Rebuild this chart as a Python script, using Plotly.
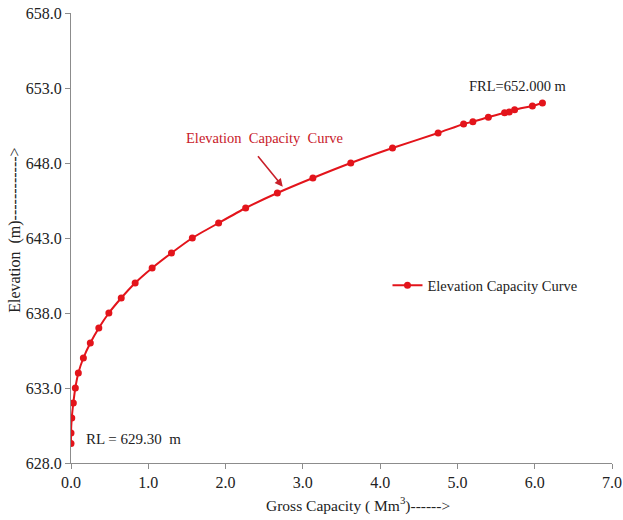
import plotly.graph_objects as go

capacity = [0.0, 0.0, 0.01, 0.03, 0.056, 0.095, 0.16, 0.25, 0.36, 0.49, 0.65, 0.83, 1.05,
            1.30, 1.57, 1.91, 2.26, 2.67, 3.13, 3.62, 4.16, 4.75, 5.08, 5.20, 5.40, 5.61,
            5.67, 5.74, 5.97, 6.10]
elevation = [629.3, 630.0, 631.0, 632.0, 633.0, 634.0, 635.0, 636.0, 637.0, 638.0, 639.0, 640.0, 641.0,
             642.0, 643.0, 644.0, 645.0, 646.0, 647.0, 648.0, 649.0, 650.0, 650.6, 650.75, 651.05, 651.35,
             651.4, 651.55, 651.8, 652.0]
x_ticks = [0, 1, 2, 3, 4, 5, 6, 7]
y_ticks = [628, 633, 638, 643, 648, 653, 658]

FONT = "Liberation Serif, Times New Roman, serif"
LINE_RED = "#e3141b"
TEXT_RED = "#c8202a"

fig = go.Figure()
fig.add_trace(go.Scatter(
    x=capacity, y=elevation, mode="lines+markers",
    name="Elevation Capacity Curve",
    line=dict(color=LINE_RED, width=2, shape="spline", smoothing=0.6),
    marker=dict(color=LINE_RED, size=7),
))

axis_common = dict(
    showgrid=False, zeroline=False, showline=True, linecolor="#8c8c8c", linewidth=1,
    ticks="outside", ticklen=5, tickcolor="#8c8c8c", automargin=False,
    ticklabeloverflow="allow",
    tickfont=dict(family=FONT, size=16, color="#222"),
)
fig.update_xaxes(range=[0, 7], tickvals=x_ticks, ticktext=[f"{v:.1f}" for v in x_ticks], **axis_common)
fig.update_yaxes(range=[628, 658], tickvals=y_ticks, ticktext=[f"{v:.1f}" for v in y_ticks], **axis_common)

fig.update_layout(
    width=623, height=520,
    margin=dict(l=71, r=11, t=13, b=57),
    plot_bgcolor="white", paper_bgcolor="white",
    font=dict(family=FONT, size=15, color="#222"),
    showlegend=True,
    legend=dict(x=0.585, y=0.395, xanchor="left", yanchor="middle",
                font=dict(family=FONT, size=14.5, color="#222"),
                bgcolor="rgba(0,0,0,0)", itemwidth=30),
    annotations=[
        dict(text="Gross Capacity ( Mm<sup>3</sup>)------>", xref="paper", yref="paper",
             x=0.53, y=-0.093, xanchor="center", yanchor="middle", showarrow=False,
             font=dict(family=FONT, size=15.5, color="#222")),
        dict(text="Elevation  (m)------------>", xref="paper", yref="paper",
             x=-0.1035, y=0.516, xanchor="center", yanchor="middle", textangle=-90, showarrow=False,
             font=dict(family=FONT, size=16, color="#222")),
        dict(text="Elevation  Capacity  Curve", x=2.5, y=649.67, xanchor="center", yanchor="middle",
             showarrow=False, font=dict(family=FONT, size=14.5, color=TEXT_RED)),
        dict(text="", x=2.74, y=646.42, ax=-26, ay=-32, showarrow=True, arrowhead=2,
             arrowsize=1, arrowwidth=1.6, arrowcolor=TEXT_RED),
        dict(text="FRL=652.000 m", x=5.78, y=653.13, xanchor="center", yanchor="middle",
             showarrow=False, font=dict(family=FONT, size=14.5, color="#222")),
        dict(text="RL = 629.30  m", x=0.815, y=629.6, xanchor="center", yanchor="middle",
             showarrow=False, font=dict(family=FONT, size=15, color="#222")),
    ],
)

fig.write_html("out.html", config={"displayModeBar": False},
               post_script="document.body.style.margin='0';")
